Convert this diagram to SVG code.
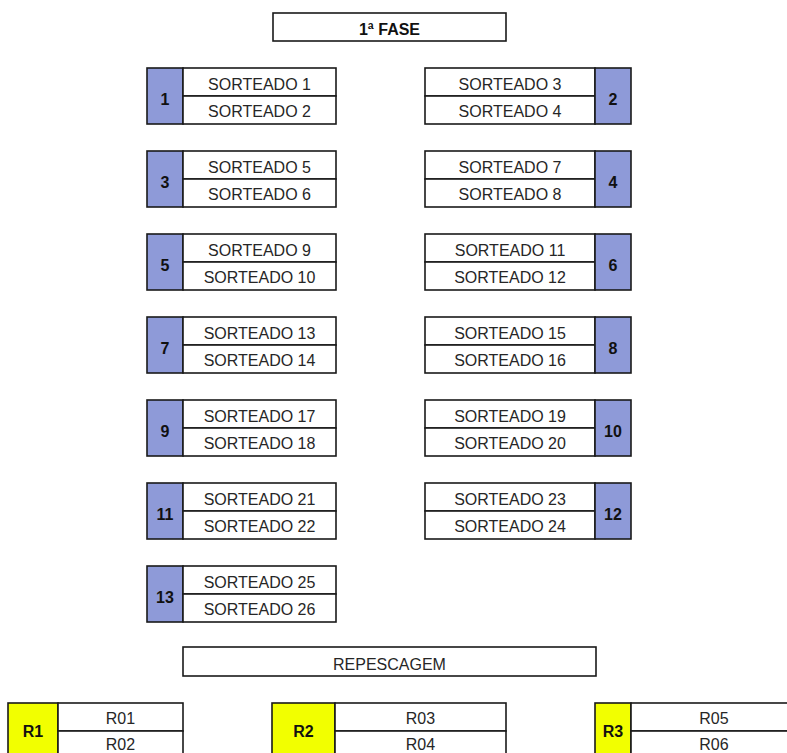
<svg xmlns="http://www.w3.org/2000/svg" width="787" height="753" viewBox="0 0 787 753">
<style>
rect{stroke:#1a1a1a;stroke-width:1.6}
.w{fill:#ffffff}
.n{fill:#8e9ad8}
.y{fill:#f2ff00}
text{font-family:"Liberation Sans",Arial,sans-serif;font-size:16px;fill:#262626;text-anchor:middle}
.b{font-weight:bold;fill:#111}
</style>
<rect width="787" height="753" fill="#ffffff" style="stroke:none"/>
<g id="title-fase">
<rect class="w" x="273" y="13" width="233" height="28"/>
<text class="b" x="389.5" y="35">1ª FASE</text>
</g>
<g id="m1"><rect class="n" x="147" y="68" width="36" height="56"/><rect class="w" x="183" y="68" width="153" height="28"/><rect class="w" x="183" y="96" width="153" height="28"/><text class="b" x="165" y="105">1</text><text x="259.5" y="90">SORTEADO 1</text><text x="259.5" y="117">SORTEADO 2</text></g>
<g id="m2"><rect class="w" x="425" y="68" width="170" height="28"/><rect class="w" x="425" y="96" width="170" height="28"/><rect class="n" x="595" y="68" width="36" height="56"/><text class="b" x="613" y="105">2</text><text x="510" y="90">SORTEADO 3</text><text x="510" y="117">SORTEADO 4</text></g>
<g id="m3"><rect class="n" x="147" y="151" width="36" height="56"/><rect class="w" x="183" y="151" width="153" height="28"/><rect class="w" x="183" y="179" width="153" height="28"/><text class="b" x="165" y="188">3</text><text x="259.5" y="173">SORTEADO 5</text><text x="259.5" y="200">SORTEADO 6</text></g>
<g id="m4"><rect class="w" x="425" y="151" width="170" height="28"/><rect class="w" x="425" y="179" width="170" height="28"/><rect class="n" x="595" y="151" width="36" height="56"/><text class="b" x="613" y="188">4</text><text x="510" y="173">SORTEADO 7</text><text x="510" y="200">SORTEADO 8</text></g>
<g id="m5"><rect class="n" x="147" y="234" width="36" height="56"/><rect class="w" x="183" y="234" width="153" height="28"/><rect class="w" x="183" y="262" width="153" height="28"/><text class="b" x="165" y="271">5</text><text x="259.5" y="256">SORTEADO 9</text><text x="259.5" y="283">SORTEADO 10</text></g>
<g id="m6"><rect class="w" x="425" y="234" width="170" height="28"/><rect class="w" x="425" y="262" width="170" height="28"/><rect class="n" x="595" y="234" width="36" height="56"/><text class="b" x="613" y="271">6</text><text x="510" y="256">SORTEADO 11</text><text x="510" y="283">SORTEADO 12</text></g>
<g id="m7"><rect class="n" x="147" y="317" width="36" height="56"/><rect class="w" x="183" y="317" width="153" height="28"/><rect class="w" x="183" y="345" width="153" height="28"/><text class="b" x="165" y="354">7</text><text x="259.5" y="339">SORTEADO 13</text><text x="259.5" y="366">SORTEADO 14</text></g>
<g id="m8"><rect class="w" x="425" y="317" width="170" height="28"/><rect class="w" x="425" y="345" width="170" height="28"/><rect class="n" x="595" y="317" width="36" height="56"/><text class="b" x="613" y="354">8</text><text x="510" y="339">SORTEADO 15</text><text x="510" y="366">SORTEADO 16</text></g>
<g id="m9"><rect class="n" x="147" y="400" width="36" height="56"/><rect class="w" x="183" y="400" width="153" height="28"/><rect class="w" x="183" y="428" width="153" height="28"/><text class="b" x="165" y="437">9</text><text x="259.5" y="422">SORTEADO 17</text><text x="259.5" y="449">SORTEADO 18</text></g>
<g id="m10"><rect class="w" x="425" y="400" width="170" height="28"/><rect class="w" x="425" y="428" width="170" height="28"/><rect class="n" x="595" y="400" width="36" height="56"/><text class="b" x="613" y="437">10</text><text x="510" y="422">SORTEADO 19</text><text x="510" y="449">SORTEADO 20</text></g>
<g id="m11"><rect class="n" x="147" y="483" width="36" height="56"/><rect class="w" x="183" y="483" width="153" height="28"/><rect class="w" x="183" y="511" width="153" height="28"/><text class="b" x="165" y="520">11</text><text x="259.5" y="505">SORTEADO 21</text><text x="259.5" y="532">SORTEADO 22</text></g>
<g id="m12"><rect class="w" x="425" y="483" width="170" height="28"/><rect class="w" x="425" y="511" width="170" height="28"/><rect class="n" x="595" y="483" width="36" height="56"/><text class="b" x="613" y="520">12</text><text x="510" y="505">SORTEADO 23</text><text x="510" y="532">SORTEADO 24</text></g>
<g id="m13"><rect class="n" x="147" y="566" width="36" height="56"/><rect class="w" x="183" y="566" width="153" height="28"/><rect class="w" x="183" y="594" width="153" height="28"/><text class="b" x="165" y="603">13</text><text x="259.5" y="588">SORTEADO 25</text><text x="259.5" y="615">SORTEADO 26</text></g>
<g id="title-repescagem">
<rect class="w" x="183" y="647" width="413" height="29"/>
<text x="389.5" y="670">REPESCAGEM</text>
</g>
<g id="r1"><rect class="y" x="8" y="703" width="50" height="56"/><rect class="w" x="58" y="703" width="125" height="28"/><rect class="w" x="58" y="731" width="125" height="28"/><text class="b" x="33" y="737">R1</text><text x="120.5" y="724">R01</text><text x="120.5" y="750">R02</text></g>
<g id="r2"><rect class="y" x="272" y="703" width="63" height="56"/><rect class="w" x="335" y="703" width="171" height="28"/><rect class="w" x="335" y="731" width="171" height="28"/><text class="b" x="303.5" y="737">R2</text><text x="420.5" y="724">R03</text><text x="420.5" y="750">R04</text></g>
<g id="r3"><rect class="y" x="595" y="703" width="36" height="56"/><rect class="w" x="631" y="703" width="166" height="28"/><rect class="w" x="631" y="731" width="166" height="28"/><text class="b" x="613" y="737">R3</text><text x="714" y="724">R05</text><text x="714" y="750">R06</text></g>
</svg>
